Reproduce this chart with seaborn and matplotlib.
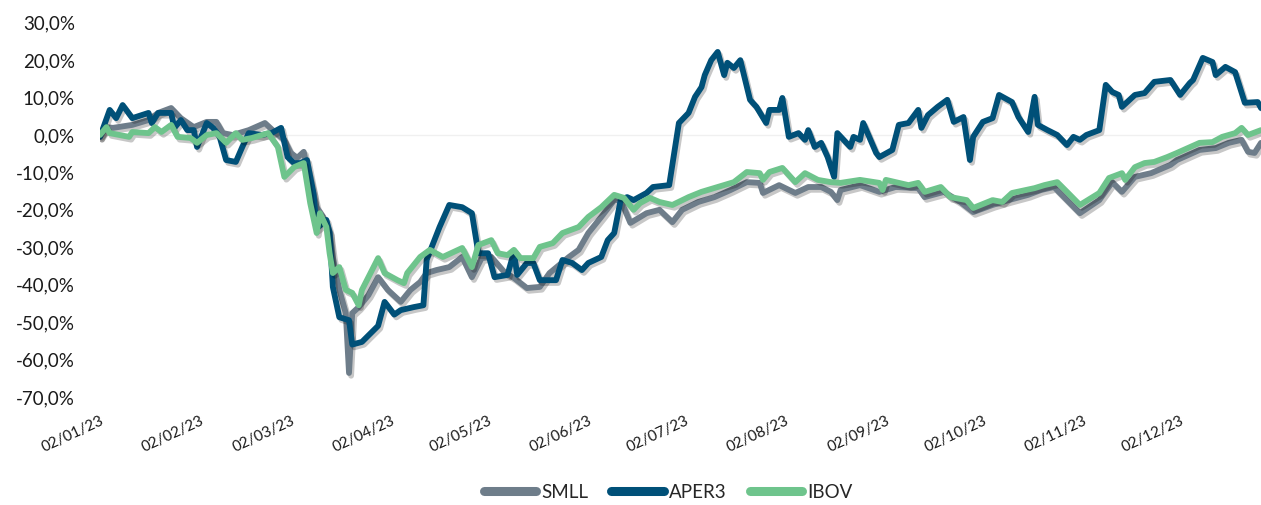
import pandas as pd
import seaborn as sns
import matplotlib.pyplot as plt
import matplotlib.patheffects as pe
from matplotlib.lines import Line2D
from matplotlib.ticker import FuncFormatter

inicio = pd.Timestamp("2023-01-02")

# dias corridos desde 02/01/23 e retorno acumulado (%)
smll_dias = [0, 2, 4, 10, 15, 18, 22, 25, 29, 33, 36, 38, 41, 46, 51, 54, 57, 59, 61, 63,
             64, 67, 69, 71, 72, 74, 76, 77, 78, 80, 83, 86, 89, 93, 96, 99, 101, 104, 108, 112,
             115, 118, 121, 125, 128, 132, 136, 139, 145, 148, 151, 155, 159, 161, 164, 169, 173, 177, 180, 185,
             190, 195, 200, 204, 205, 210, 215, 219, 223, 226, 228, 229, 235, 241, 246, 253, 255, 261, 266, 270,
             276, 281, 287, 291, 295, 299, 303, 309, 313, 316, 320, 325, 331, 333, 340, 345, 349, 353, 355, 357, 359]
smll_vals = [-0.5, 2.1, 1.9, 2.7, 4.0, 5.9, 7.2, 4.5, 2.1, 3.5, 3.5, 0.5, 0.0, 1.3, 3.2, 0.8, -1.3, -4.8, -6.1, -4.5,
             -8.6, -19.3, -21.9, -26.2, -32.6, -41.4, -47.6, -63.6, -47.6, -46.0, -42.8, -38.0, -41.4, -44.6, -41.4, -39.3, -36.9, -36.1, -35.3, -32.6,
             -38.0, -32.9, -32.6, -36.6, -38.2, -40.9, -40.6, -36.9, -32.6, -30.7, -26.2, -21.9, -17.4, -17.4, -23.5, -20.9, -20.0, -23.3, -20.0, -17.9,
             -16.6, -14.7, -12.6, -12.8, -15.5, -13.4, -15.5, -13.9, -13.9, -15.2, -17.4, -14.7, -13.4, -15.2, -13.9, -14.2, -16.6, -15.2, -17.9, -20.6,
             -18.7, -17.4, -16.0, -14.7, -13.9, -17.4, -20.9, -17.4, -12.6, -15.2, -11.2, -10.2, -8.0, -6.7, -4.0, -3.5, -2.1, -1.3, -4.5, -4.8, -2.1]

aper3_dias = [0, 3, 5, 7, 10, 15, 16, 18, 22, 23, 25, 27, 29, 30, 33, 35, 37, 39, 42, 44,
              46, 50, 53, 56, 58, 60, 62, 64, 66, 67, 70, 71, 72, 74, 77, 78, 81, 86, 88, 91,
              93, 97, 100, 101, 103, 105, 108, 112, 115, 117, 120, 122, 126, 128, 129, 132, 134, 136, 141, 143,
              146, 149, 151, 155, 157, 159, 161, 163, 165, 169, 171, 176, 179, 182, 184, 186, 187, 189, 191, 193,
              194, 196, 198, 201, 203, 206, 207, 210, 211, 213, 216, 218, 219, 221, 223, 225, 227, 228, 232, 233,
              235, 236, 240, 241, 245, 247, 250, 253, 254, 256, 259, 262, 264, 267, 269, 270, 273, 276, 278, 282,
              284, 287, 289, 290, 293, 296, 299, 301, 303, 305, 309, 311, 313, 315, 316, 320, 323, 326, 331, 334,
              337, 338, 341, 344, 345, 348, 351, 354, 358, 359]
aper3_vals = [-0.5, 6.7, 4.5, 8.0, 4.5, 5.9, 3.2, 5.9, 5.9, 1.9, 4.0, 1.3, 1.3, -3.2, 3.2, 1.9, -0.5, -6.7, -7.2, -3.2,
              0.5, 0.0, 0.5, 1.9, -5.9, -7.5, -7.5, -6.7, -15.5, -25.0, -22.7, -26.0, -40.6, -48.7, -49.5, -56.0, -55.3, -51.0, -44.6, -48.0,
              -46.8, -46.0, -45.5, -33.4, -29.0, -24.6, -18.7, -19.3, -20.9, -31.6, -31.6, -38.0, -37.4, -31.3, -37.4, -34.2, -34.2, -38.8, -38.8, -33.4,
              -34.2, -36.1, -34.2, -32.6, -28.1, -26.2, -17.4, -16.6, -17.4, -15.5, -13.9, -13.4, 3.2, 5.9, 10.2, 12.8, 16.0, 20.0, 22.2, 16.0,
              19.3, 17.9, 20.0, 9.4, 7.5, 3.2, 6.7, 6.7, 9.9, -0.5, 0.5, -1.3, 1.3, -3.2, -2.1, -5.9, -11.2, 0.5, -3.2, -0.5,
              -1.3, 3.2, -4.8, -5.9, -4.0, 2.7, 3.2, 6.7, 1.9, 5.3, 7.5, 9.4, 3.5, 4.8, -6.7, -0.5, 3.5, 4.5, 10.7, 8.8,
              4.8, 0.8, 10.2, 2.7, 1.3, 0.0, -2.7, -0.5, -1.3, 0.0, 1.3, 13.4, 11.5, 10.7, 7.5, 10.7, 11.2, 14.2, 14.7, 10.7,
              13.9, 14.7, 20.6, 19.5, 16.0, 18.2, 16.8, 8.6, 8.8, 7.2]

ibov_dias = [0, 2, 3, 9, 10, 15, 17, 19, 22, 24, 28, 30, 33, 36, 39, 42, 44, 47, 52, 55,
             57, 60, 63, 65, 67, 68, 70, 71, 72, 74, 76, 78, 80, 81, 86, 88, 92, 94, 95, 99,
             102, 106, 112, 115, 117, 121, 123, 126, 128, 130, 134, 136, 140, 143, 148, 151, 155, 159, 162, 165,
             167, 170, 173, 177, 182, 186, 191, 196, 200, 204, 205, 207, 211, 215, 218, 222, 226, 229, 235, 241,
             242, 243, 250, 253, 255, 260, 263, 268, 270, 276, 279, 282, 289, 292, 296, 299, 303, 309, 312, 316,
             317, 320, 323, 326, 330, 333, 340, 344, 347, 351, 353, 355, 359]
ibov_vals = [0.0, 2.1, 0.5, -0.5, 0.8, 0.5, 2.1, 0.8, 2.7, -0.5, -0.8, -2.1, 0.0, 0.5, -2.1, 0.5, -1.3, -0.8, 0.5, -3.2,
             -11.2, -8.6, -7.5, -18.2, -26.2, -20.9, -24.6, -31.6, -36.9, -35.3, -41.4, -42.2, -45.5, -41.4, -32.9, -36.9, -38.8, -39.6, -36.9, -32.6,
             -30.7, -32.6, -30.2, -35.3, -29.4, -28.1, -31.6, -32.1, -30.7, -32.9, -32.9, -29.9, -28.9, -26.2, -24.6, -21.9, -19.3, -16.0, -16.8, -20.0,
             -18.2, -16.8, -17.9, -18.7, -16.6, -15.2, -13.9, -12.6, -9.9, -10.2, -12.0, -9.9, -8.8, -12.6, -10.2, -12.0, -12.6, -12.8, -12.0, -12.8,
             -14.7, -12.0, -13.4, -12.8, -15.2, -13.9, -16.6, -17.4, -19.5, -17.4, -17.9, -15.5, -14.2, -13.4, -12.6, -15.2, -18.7, -15.5, -11.5, -10.2,
             -12.0, -8.6, -7.5, -7.2, -5.9, -4.8, -2.1, -1.9, -0.5, 0.5, 1.9, 0.0, 1.3]

ordem = ["SMLL", "APER3", "IBOV"]
cores = {"SMLL": "#6e7d8a", "APER3": "#005078", "IBOV": "#6ec48c"}

partes = []
for nome, dias, vals in [("SMLL", smll_dias, smll_vals),
                         ("APER3", aper3_dias, aper3_vals),
                         ("IBOV", ibov_dias, ibov_vals)]:
    partes.append(pd.DataFrame({"Data": inicio + pd.to_timedelta(dias, unit="D"),
                                "Retorno": vals, "Ativo": nome}))
dataset = pd.concat(partes, ignore_index=True)

sns.set_style("white")
plt.rcParams["font.family"] = ["Lato", "DejaVu Sans"]

fig = plt.figure(figsize=(12.61, 5.05), dpi=100)
ax = fig.add_axes([0.0793, 0.214, 0.9207, 0.741])

ax.axhline(0, color="#f0f0f0", linewidth=1, zorder=0)
sns.lineplot(data=dataset, x="Data", y="Retorno", hue="Ativo", hue_order=ordem,
             palette=cores, estimator=None, linewidth=4.2, legend=False, ax=ax)
for ln in ax.lines[1:]:
    ln.set_solid_joinstyle("round")
    ln.set_path_effects([pe.SimpleLineShadow(offset=(1.5, -2), shadow_color="black", alpha=0.22),
                         pe.Normal()])

ax.set_ylim(-70, 30)
ax.set_yticks(range(-70, 31, 10))
ax.yaxis.set_major_formatter(FuncFormatter(lambda v, p: f"{v:.1f}%".replace(".", ",")))
ax.set_xlim(inicio, inicio + pd.Timedelta(days=359))
meses = pd.date_range("2023-01-01", periods=12, freq="MS") + pd.Timedelta(days=1)
ax.set_xticks(meses)
ax.set_xticklabels([m.strftime("%d/%m/%y") for m in meses], rotation=25,
                   ha="right", va="top", rotation_mode="anchor")
ax.tick_params(axis="y", labelsize=13.5, length=0, pad=18, labelcolor="#1a1a1a")
ax.tick_params(axis="x", labelsize=11, length=0, pad=12, labelcolor="#1a1a1a")
ax.set_xlabel("")
ax.set_ylabel("")
sns.despine(ax=ax, left=True, bottom=True)

alcas = [Line2D([0], [0], color=cores[n], linewidth=6.5, solid_capstyle="round") for n in ordem]
fig.legend(alcas, ordem, loc="center", bbox_to_anchor=(0.53, 0.025), ncol=3, frameon=False,
           fontsize=13.5, handlelength=2.8, handletextpad=0.3, columnspacing=1.2)

fig.savefig("out.png", dpi=100)
